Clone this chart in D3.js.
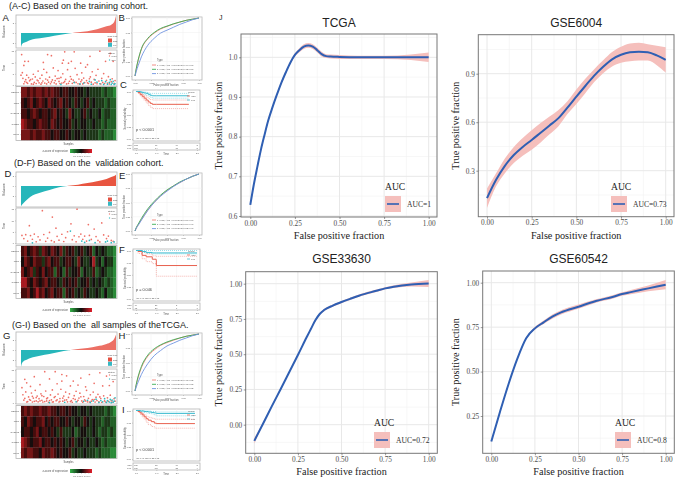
<!DOCTYPE html>
<html>
<head>
<meta charset="utf-8">
<script src="https://cdnjs.cloudflare.com/ajax/libs/d3/7.8.5/d3.min.js"></script>
<style>
  html, body { margin: 0; padding: 0; background: #fff; }
  svg { display: block; }
  text { font-family: "Liberation Sans", Arial, sans-serif; }
  .serif text, text.serif { font-family: "Liberation Serif", "Times New Roman", serif; }
</style>
</head>
<body>
<svg id="chart" width="687" height="481"></svg>
<script>
// ---- ROC panels on the right (J) ----
const tcgaFpr = [0, .02, .04, .06, .08, .1, .125, .15, .175, .2, .225, .25, .275, .3, .325, .35, .375, .4, .425, .45, .5, .6, .75, .9, 1];
const tcgaTpr = [.628, .68, .725, .768, .805, .84, .875, .907, .937, .963, .987, 1.006, 1.018, 1.027, 1.03, 1.027, 1.018, 1.008, 1.003, 1.002, 1.001, 1, 1, 1, 1];
const tcgaErr = [.003, .003, .003, .003, .003, .003, .003, .003, .003, .003, .003, .004, .005, .006, .006, .006, .006, .006, .005, .005, .005, .004, .004, .007, .012];

const gse6004Fpr = [0, .05, .1, .15, .2, .25, .3, .35, .4, .45, .5, .55, .6, .65, .7, .75, .8, .85, .9, .95, 1];
const gse6004Tpr = [.13, .242, .33, .397, .447, .49, .535, .58, .625, .69, .758, .824, .888, .943, .989, 1.017, 1.032, 1.036, 1.032, 1.013, .985];
const gse6004Err = [.06, .04, .045, .05, .055, .06, .06, .055, .05, .04, .045, .045, .04, .04, .045, .05, .055, .055, .05, .06, .078];

const gse33630Fpr = [0, .05, .1, .15, .2, .25, .3, .325, .35, .375, .4, .45, .5, .55, .6, .7, .75, .8, .9, 1];
const gse33630Tpr = [-.115, .007, .13, .25, .372, .494, .62, .68, .74, .785, .813, .845, .87, .893, .915, .95, .967, .979, .995, 1.002];
const gse33630Err = [.02, .008, .006, .006, .006, .006, .006, .007, .008, .008, .008, .008, .008, .008, .008, .008, .008, .01, .014, .025];

const gse60542Fpr = [0, .05, .1, .15, .2, .25, .3, .35, .4, .5, .6, .7, .75, .8, .9, 1];
const gse60542Tpr = [.106, .274, .433, .574, .687, .743, .777, .809, .833, .865, .897, .921, .936, .947, .968, .989];
const gse60542Err = [.005, .004, .004, .004, .005, .008, .01, .012, .012, .012, .01, .01, .01, .012, .016, .026];

// ---- risk score curves (A, D, G) ----
const riskRank = [0, .01, .03, .06, .1, .2, .3, .4, .5, .6, .7, .8, .9, .95, .98, 1];
const riskTrain = [-4.2, -3.4, -2.9, -2.6, -2.1, -1.6, -1.1, -.6, -.15, .2, .5, 1.1, 2, 2.5, 3.3, 5.2];
const riskValid = [-6.1, -5.6, -5, -4.2, -3.2, -2, -1.2, -.4, .05, .4, .9, 1.4, 2.1, 2.7, 3, 3.4];
const riskAll = [-5, -4, -3.3, -2.9, -2.4, -1.7, -1.2, -.6, -.1, .3, .6, 1.1, 1.8, 2.5, 3.3, 4.6];

// ---- survival scatter [rank, time] ----
const trainDead = [[.7,13.5],[3,8.7],[4,10.5],[7.7,10.5],[1.4,5.5],[0,4.4],[6,4.4],[28,13.5],[32,13],[23.5,10],[44.6,11],[43.5,9.7],[50,9.7],[46,14.7],[56,14.7],[53,10.5],[83,15],[94,14],[89,10.5],[72.6,12.7],[62.8,9.7],[70,9],[97,10.5],
  [2,3],[4,1.5],[5,2.4],[7,.8],[8,3.3],[9,1.9],[11,.5],[12,2.7],[13,4.8],[14,1.2],[15,3.6],[16,.7],[17,2.2],[18,6.2],[19,1],[20,3],[21,.4],[22,4.4],[23,1.8],[24,7],[25,.9],[26,2.7],[27,5.6],[29,1.3],[30,3.5],[31,.6],[33,2.3],[34,7.6],[35,1],[36,4],[37,.5],[38,2.9],[39,6.4],[40,1.6],[41,.7],[42,3.4],[44,5],[45,1.1],[47,2.5],[48,.5],[49,6.8],[51,1.7],[52,3.8],[54,.8],[55,2.2],[57,7.4],[58,1.2],[59,4.6],[60,.6],[61,2.7],[63,1.5],[64,5.4],[65,.5],[66,3.1],[67,1.1],[68,7.9],[69,2],[71,.7],[73,3.6],[74,1.3],[75,5.9],[76,.4],[77,2.5],[78,1],[79,4.3],[80,.6],[81,7],[82,1.8],[84,.5],[85,3],[86,1.2],[87,5.1],[88,.7],[90,2.1],[91,.9],[92,3.7],[93,.5],[95,1.5],[96,2.8],[98,.8],[99,2],
  [3,.6],[6,1.2],[10,2.4],[13,.4],[18,1.9],[22,1],[27,.5],[28,2.2],[32,1.4],[36,2],[40,3],[43,.9],[46,1.6],[50,.8],[53,2.6],[56,1.3],[62,.4],[64,2.3],[70,1],[72,2.8]];
const trainAlive = [[42,.3],[56,1.1],[62,.5],[66,.9],[72,1.6],[74,.4],[78,2.3],[80,1.3],[83,.6],[85,2],[87,.3],[89,1.5],[91,.4],[93,1.2],[94,2.4],[95,.3],[96,.9],[97,1.7],[98,.3],[99,.6]];

const validDead = [[22.5,14.3],[33,11.5],[59,15],[8.8,7.7],[70.9,8.2],[85,8.9],[77,6.2],[36.8,6.6],[52.6,8.5],
  [1,3.4],[3,2],[5,3.7],[7,.9],[10,3.3],[12,1.7],[14,4],[16,.6],[18,2.8],[20,1.4],[24,3.8],[26,.8],[28,2.2],[30,4.7],[32,1.1],[35,.5],[38,3],[40,1.3],[43,3.9],[45,.7],[47,2.4],[49,5],[54,1.5],[56,3.2],[58,.6],[61,2.8],[63,4],[65,1.7],[67,3.1],[69,.9],[72,3.4],[74,1.6],[79,2.9],[81,1.2],[83,.5],[87,3.6],[90,2],[92,3.1],[95,1.2],[97,.8]];
const validAlive = [[12,.1],[52,5.3],[64,.9],[67,.3],[72,1.2],[78,.2],[89,.5],[91,.9],[95,.2],[98,.5]];

const allDead = [[25,14.3],[36,14.3],[43,13],[4,10.8],[6,9.2],[43,10],[83,13.8],[90,12.3],[55,10],[14,12],[30,11],[48,12.4],[63,11.4],[72,13],[97,9.8],[1,7],[10,7.6],[20,8.4],[38,8.8],[52,7.8],[60,8.2],[68,7.4],[77,9],[86,7.8],[93,8],
  [2,3.8],[3,1.4],[5,5.1],[7,.7],[8,2.8],[9,1.6],[11,4.6],[12,.5],[13,2.3],[15,5.8],[16,1],[17,3.2],[18,.6],[19,2],[21,4.2],[22,1.3],[23,.5],[24,3],[26,5.5],[27,1],[28,2.4],[29,.4],[31,3.7],[32,1.5],[33,6],[34,.6],[35,2.6],[37,1.1],[39,4.1],[40,.5],[41,2.1],[42,6.3],[44,.9],[45,3.2],[46,1.4],[47,5],[49,.6],[50,2.6],[51,4.2],[53,1.1],[54,.4],[56,3.4],[57,1.7],[58,5.4],[59,.7],[61,2.3],[62,4.5],[64,1],[65,.4],[66,3],[67,1.5],[69,5.8],[70,.6],[71,2.2],[73,3.8],[74,.9],[75,1.6],[76,5],[78,.5],[79,2.7],[80,1.2],[81,4],[82,.6],[84,2.1],[85,.4],[87,3.3],[88,1],[89,.5],[91,2.4],[92,.8],[94,3.6],[95,1.1],[96,.5],[98,2],[99,.9],
  [4,2.2],[6,.5],[10,1.3],[12,3.1],[14,.8],[16,2.5],[20,1],[22,3.4],[25,.7],[27,2],[30,1.2],[33,.5],[36,3],[38,1.5],[41,.8],[44,2.3],[48,1.5],[52,.7],[55,2.1],[60,1.3],[63,2.9],[68,1],[72,.5],[77,1.6],[83,2.8]];
const allAlive = [[30,.2],[46,.4],[58,.6],[66,.8],[70,1.3],[73,.3],[76,1],[79,1.8],[82,.3],[84,1.2],[86,.6],[88,2],[90,.3],[91,1.1],[93,.5],[94,1.7],[95,.2],[96,1.4],[97,.4],[98,.9],[99,2.4]];

// ---- expression heatmaps, 5 genes by sample bins ----
const geneNames = ["MEMO1", "TLE1", "SH3TC2", "CCNB1", "PRC1"];
const heatTrain = [
  [2,2,1,2,1,2,2,1,2,1,2,1,1,0,1,1,0,0,1,0,0,-1,0,-1,-1,-1,-1,-2,-1,-2,-2,-3],
  [1,0,1,2,0,1,2,1,0,2,1,0,1,2,0,1,0,-1,1,0,-1,0,1,-1,0,-1,-1,-1,-2,-1,-2,-2],
  [1,1,0,1,2,1,0,1,1,0,1,2,0,1,0,-1,2,0,-1,-1,0,1,-1,0,-1,-1,0,-2,-1,-1,-2,-2],
  [3,2,1,1,0,1,2,1,1,0,2,1,0,1,0,0,1,-1,0,-1,0,0,-1,-1,0,-1,-1,-2,-1,-2,-2,-2],
  [2,2,2,1,2,1,1,2,1,1,0,1,1,0,0,1,0,-1,0,0,-1,0,-1,-1,-1,-1,-2,-1,-2,-2,-2,-3]
];
const heatValid = [
  [1,2,0,1,2,1,-1,2,1,0,2,1,0,2,-1,1,0,1,-1,0,1,-1,0,1,-2,0,-1,0,-1,-2,-2,-3],
  [0,2,1,0,2,1,1,-1,1,2,0,1,1,-1,0,1,1,0,-1,2,0,-1,-1,0,3,-1,0,-2,0,-1,-1,-3],
  [2,0,1,2,-1,1,0,2,0,1,1,-2,1,0,-2,1,-1,0,0,1,-2,0,-1,-1,1,-2,-1,0,-1,-2,-2,-3],
  [3,3,1,0,2,1,0,1,2,0,1,1,0,-1,1,0,1,0,1,-1,0,0,1,-1,0,-1,0,-1,-2,-1,-2,-3],
  [1,1,2,0,1,3,1,2,0,1,2,0,1,1,-2,1,0,1,-1,0,-1,1,0,-1,-1,0,-1,-2,0,-2,-2,-3]
];
const heatAll = [
  [1,2,1,2,1,1,2,1,1,2,1,1,0,1,1,0,1,0,0,-1,0,0,-1,0,-1,-1,-1,-1,-2,-1,-2,-3],
  [1,0,2,1,0,1,1,2,0,1,0,1,1,0,0,1,0,-1,0,0,-1,1,0,-1,0,-1,-1,-2,-1,-1,-2,-2],
  [0,1,1,0,1,2,0,1,1,0,1,0,-1,1,-1,-1,-1,0,-2,-1,0,0,-1,-1,0,-1,-2,-1,-1,-2,-1,-2],
  [3,2,1,0,1,1,2,0,1,1,0,1,0,1,0,-1,0,1,-1,0,0,-1,0,-1,-1,0,-1,-2,-1,-2,-2,-2],
  [2,1,2,2,1,1,0,2,1,1,2,1,0,1,0,0,1,-1,0,-1,-1,0,-1,-1,-1,-2,-1,-2,-2,-2,-3,-3]
];
const heatLegendTicks = [-3, -2, -1, 0, 1, 2, 3];

// ---- small ROC curves (B, E, H) ----
const smallFpr = [0, .02, .05, .1, .2, .3, .4, .5, .6, .7, .8, .9, 1];
const rocBred = [0, .12, .27, .46, .64, .74, .81, .855, .895, .93, .96, .98, 1];
const rocBgreen = [0, .13, .28, .47, .65, .75, .82, .86, .9, .93, .96, .98, 1];
const rocBblue = [0, .08, .18, .33, .53, .65, .74, .79, .84, .89, .93, .97, 1];
const rocEred = [0, .05, .11, .2, .37, .5, .62, .71, .79, .85, .91, .96, 1];
const rocEgreen = [0, .06, .12, .22, .39, .52, .63, .72, .79, .86, .91, .96, 1];
const rocEblue = [0, .05, .1, .19, .36, .5, .61, .7, .78, .85, .91, .96, 1];
const rocHred = [0, .11, .24, .41, .61, .72, .8, .85, .89, .93, .96, .98, 1];
const rocHgreen = [0, .12, .26, .43, .63, .74, .81, .86, .9, .93, .96, .98, 1];
const rocHblue = [0, .07, .16, .29, .48, .62, .71, .79, .84, .89, .93, .97, 1];
const rocLegendB = ["1-Years, AUC=0.80(95%CI:0.74-0.87)", "3-Years, AUC=0.80(95%CI:0.73-0.88)", "5-Years, AUC=0.75(95%CI:0.63-0.87)"];
const rocLegendE = ["1-Years, AUC=0.71(95%CI:0.56-0.86)", "3-Years, AUC=0.72(95%CI:0.54-0.90)", "5-Years, AUC=0.71(95%CI:0.52-0.90)"];
const rocLegendH = ["1-Years, AUC=0.77(95%CI:0.71-0.83)", "3-Years, AUC=0.78(95%CI:0.71-0.85)", "5-Years, AUC=0.73(95%CI:0.63-0.83)"];

// ---- survival curves (C, F, I) ----
const kmTime = [0, .1, .2, .3, .4, .5, .6, .7, .8, 1, 2.6];
const kmCHigh = [1, .98, .94, .9, .86, .82, .78, .75, .73, .73, .73];
const kmCHighUp = [1, .99, .97, .94, .91, .88, .85, .83, .82, .82, .82];
const kmCHighLo = [1, .96, .91, .86, .81, .76, .71, .67, .64, .64, .64];
const kmCLow = [1, 1, .99, .98, .97, .96, .94, .92, .91, .91, .91];
const kmCLowUp = [1, 1, 1, .99, .99, .98, .97, .96, .96, .96, .96];
const kmCLowLo = [1, .99, .98, .96, .94, .92, .9, .88, .86, .86, .86];
const kmFTime = [0, .1, .3, .5, .8, .99, 1, 3];
const kmFHigh = [1, .98, .9, .87, .82, .8, .69, .69];
const kmFHighUp = [1, 1, .96, .93, .89, .88, .88, .88];
const kmFHighLo = [1, .94, .83, .77, .73, .73, .47, .47];
const kmFLow = [1, 1, .98, .96, .95, .95, .95, .95];
const kmFLowUp = [1, 1, 1, 1, 1, 1, 1, 1];
const kmFLowLo = [1, .99, .96, .94, .93, .93, .93, .93];
const kmITime = [0, .1, .2, .3, .4, .5, .6, .75, .9, 1, 2.9];
const kmIHigh = [1, .98, .95, .91, .87, .83, .8, .77, .74, .73, .73];
const kmIHighUp = [1, .99, .97, .94, .91, .88, .86, .84, .82, .82, .82];
const kmIHighLo = [1, .97, .92, .87, .82, .76, .71, .67, .64, .635, .635];
const kmILow = [1, 1, .99, .99, .98, .98, .97, .96, .95, .94, .94];
const kmILowUp = [1, 1, 1, 1, .99, .99, .99, .98, .98, .97, .97];
const kmILowLo = [1, .99, .98, .97, .96, .95, .94, .93, .91, .89, .89];
const kmTicks = [0, 1, 2, 3];
const tableCHigh = [152, 61, 14, 2];
const tableCLow = [151, 74, 18, 3];
const tableFHigh = [64, 21, 5, 1];
const tableFLow = [65, 30, 7, 1];
const tableIHigh = [216, 82, 19, 3];
const tableILow = [216, 104, 25, 4];

const svg = d3.select("#chart");
const highColor = "#ec6f65", lowColor = "#25b6ba";
const keyColor = d3.scaleLinear().domain([-3, 0, 3]).range(["#35b548", "#0b0b0b", "#e3202a"]);
const heatColor = d3.scaleLinear().domain([-4, 0, 4.2]).range(["#35b548", "#120a08", "#e3202a"]);

const defs = svg.append("defs");
defs.append("filter").attr("id", "soft")
  .append("feGaussianBlur").attr("stdDeviation", 0.4);

// fine axes for the little panels
function tinyAxis(g, axis) {
  g.call(axis.tickSize(1).tickPadding(1));
  g.select(".domain").remove();
  g.selectAll("line").attr("stroke", "#777").attr("stroke-width", 0.3);
  g.selectAll("text").attr("font-size", 2.2).attr("fill", "#555");
}

function tinyFrame(g, x, y, w, h) {
  g.append("rect").attr("x", x).attr("y", y).attr("width", w).attr("height", h)
    .attr("fill", "none").attr("stroke", "#b5b5b5").attr("stroke-width", 0.8);
}

function tinyText(g, x, y, s, size, color) {
  return g.append("text").attr("x", x).attr("y", y)
    .attr("font-size", size || 2.6).attr("fill", color || "#555").text(s);
}

// risk curve + scatter + heatmap column
function riskColumn(id, p) {
  const g = svg.append("g").attr("filter", "url(#soft)");
  const x = d3.scaleLinear().domain([0, 1]).range([21, 116]);
  const y = d3.scaleLinear().domain(p.riskDomain).range([p.riskBox[1], p.riskBox[0]]);

  tinyFrame(g, 16, p.riskBox[0], 101, p.riskBox[1] - p.riskBox[0]);
  [[p.riskBox[0], y(0), p.highFill, "hi"], [y(0), p.riskBox[1], lowColor, "lo"]].forEach(d => {
    const clip = id + d[3];
    defs.append("clipPath").attr("id", clip).append("rect")
      .attr("x", 16).attr("y", d[0]).attr("width", 101).attr("height", d[1] - d[0]);
    g.append("path").datum(p.risk)
      .attr("clip-path", "url(#" + clip + ")")
      .attr("fill", d[2])
      .attr("d", d3.area().x((v, i) => x(riskRank[i])).y0(y(0)).y1(v => y(v)).curve(d3.curveMonotoneX));
  });
  tinyAxis(g.append("g").attr("transform", "translate(16,0)"), d3.axisLeft(y).tickValues([-3, 0, 3]));
  g.append("text").attr("transform", `translate(5,${(p.riskBox[0] + p.riskBox[1]) / 2}) rotate(-90)`)
    .attr("text-anchor", "middle").attr("font-size", 2.8).attr("fill", "#555").text("Riskscore");
  tinyText(g, 107.5, p.riskBox[1] - 11, "Risk type", 2.4);
  g.append("rect").attr("x", 108).attr("y", p.riskBox[1] - 9.5).attr("width", 4).attr("height", 4).attr("fill", "#e6503f");
  g.append("rect").attr("x", 108).attr("y", p.riskBox[1] - 5.2).attr("width", 4).attr("height", 4).attr("fill", "#35b8c4");
  tinyText(g, 113, p.riskBox[1] - 6.5, "high", 2.2);
  tinyText(g, 113, p.riskBox[1] - 2.2, "low", 2.2);

  // survival scatter
  const sx = d3.scaleLinear().domain([0, 100]).range([21, 116]);
  const sy = d3.scaleLinear().domain([-.4, 15.5]).range([p.dotBox[1], p.dotBox[0]]);
  tinyFrame(g, 16, p.dotBox[0], 101, p.dotBox[1] - p.dotBox[0]);
  [[p.dead, "#ee6f66"], [p.alive, "#2fbcc2"]].forEach(s => {
    g.append("g").selectAll("circle").data(s[0]).join("circle")
      .attr("cx", d => sx(d[0])).attr("cy", d => sy(d[1])).attr("r", 0.85).attr("fill", s[1]);
  });
  tinyAxis(g.append("g").attr("transform", "translate(16,0)"), d3.axisLeft(sy).tickValues([0, 5, 10, 15]));
  g.append("text").attr("transform", `translate(5,${(p.dotBox[0] + p.dotBox[1]) / 2}) rotate(-90)`)
    .attr("text-anchor", "middle").attr("font-size", 2.8).attr("fill", "#555").text("Time");
  tinyText(g, 108, p.dotBox[0] + 3.5, "Status", 2.4);
  g.append("circle").attr("cx", 109.5).attr("cy", p.dotBox[0] + 6).attr("r", .7).attr("fill", "#f0837a");
  g.append("circle").attr("cx", 109.5).attr("cy", p.dotBox[0] + 10).attr("r", .7).attr("fill", "#42c4c8");
  tinyText(g, 111.5, p.dotBox[0] + 6.8, "dead", 2.2);
  tinyText(g, 111.5, p.dotBox[0] + 10.8, "alive", 2.2);

  // heatmap
  const cols = d3.range(p.heat[0].length);
  const hx = d3.scaleBand().domain(cols).range([21, 116]);
  const hy = d3.scaleBand().domain(geneNames).range([p.heatBox[0], p.heatBox[1]]);
  tinyFrame(g, 16, p.heatBox[0] - .5, 101, p.heatBox[1] - p.heatBox[0] + 1);
  p.heat.forEach((row, r) => {
    g.append("g").selectAll("rect").data(row).join("rect")
      .attr("x", (d, i) => hx(i)).attr("y", hy(geneNames[r]))
      .attr("width", hx.bandwidth() + .2).attr("height", hy.bandwidth() + .2)
      .attr("fill", d => heatColor(d));
  });
  tinyAxis(g.append("g").attr("transform", "translate(21,0)"), d3.axisLeft(hy));
  tinyText(g, 68.5, p.heatBox[1] + 4.5, "Samples", 2.6).attr("text-anchor", "middle");

  // colour key
  const gradId = id + "key";
  const grad = defs.append("linearGradient").attr("id", gradId);
  heatLegendTicks.forEach(t => grad.append("stop")
    .attr("offset", (t + 3) / 6).attr("stop-color", keyColor(t)));
  const kx = d3.scaleLinear().domain([-3, 3]).range([70, 92]);
  g.append("rect").attr("x", 70).attr("y", p.keyY).attr("width", 22).attr("height", 4).attr("fill", `url(#${gradId})`);
  tinyText(g, 68, p.keyY + 2.8, "z-score of expression", 2.7).attr("text-anchor", "end");
  tinyAxis(g.append("g").attr("transform", `translate(0,${p.keyY + 4})`), d3.axisBottom(kx).tickValues([-2, -1, 0, 1, 2]));
}

function smallRoc(p) {
  const g = svg.append("g").attr("filter", "url(#soft)");
  const x = d3.scaleLinear().domain([0, 1]).range([135, 199]);
  const y = d3.scaleLinear().domain([0, 1]).range([p.box[1] - 4, p.box[0] + 1]);
  tinyFrame(g, 132, p.box[0], 70, p.box[1] - p.box[0]);
  [.25, .5, .75, 1].forEach(v => {
    g.append("line").attr("x1", x(v)).attr("x2", x(v)).attr("y1", p.box[0]).attr("y2", p.box[1]).attr("stroke", "#eee").attr("stroke-width", .5);
    g.append("line").attr("x1", 132).attr("x2", 202).attr("y1", y(v)).attr("y2", y(v)).attr("stroke", "#eee").attr("stroke-width", .5);
  });
  const colors = ["#ee7f76", "#39ae55", "#6f93e0"];
  [p.red, p.green, p.blue].forEach((c, i) => {
    g.append("path").datum(c).attr("fill", "none").attr("stroke", colors[i]).attr("stroke-width", .9)
      .attr("d", d3.line().x((v, k) => x(smallFpr[k])).y(v => y(v)).curve(d3.curveMonotoneX));
  });
  tinyAxis(g.append("g").attr("transform", `translate(0,${p.box[1]})`), d3.axisBottom(x).tickValues([0, .25, .5, .75, 1]).tickFormat(d3.format(".2f")));
  tinyAxis(g.append("g").attr("transform", "translate(132,0)"), d3.axisLeft(y).tickValues([0, .25, .5, .75, 1]).tickFormat(d3.format(".2f")));
  g.append("text").attr("transform", `translate(125,${(p.box[0] + p.box[1]) / 2 + 3}) rotate(-90)`)
    .attr("text-anchor", "middle").attr("font-size", 2.6).attr("fill", "#555").text("True positive fraction");
  tinyText(g, 166, p.box[1] + 6, "False positive fraction", 2.6).attr("text-anchor", "middle");
  tinyText(g, 157, p.box[1] - 19, "Type", 2.6);
  p.legend.forEach((s, i) => {
    const ly = p.box[1] - 15 + i * 4.3;
    g.append("line").attr("x1", 152).attr("x2", 156).attr("y1", ly).attr("y2", ly).attr("stroke", colors[i]).attr("stroke-width", .9);
    tinyText(g, 157, ly + .8, s, 2.2);
  });
}

function smallKm(p) {
  const g = svg.append("g").attr("filter", "url(#soft)");
  const x = d3.scaleLinear().domain([0, 3]).range([136, 197]);
  const y = d3.scaleLinear().domain([0, 1]).range([p.box[1] - 2, p.box[0] + 1.5]);
  tinyFrame(g, 133, p.box[0], 67, p.box[1] - p.box[0]);
  kmTicks.forEach(t => g.append("line").attr("x1", x(t)).attr("x2", x(t)).attr("y1", p.box[0]).attr("y2", p.box[1]).attr("stroke", "#eee").attr("stroke-width", .5));
  const step = d3.line().x((v, i) => x(p.time[i])).y(v => y(v)).curve(d3.curveStepAfter);
  [[p.highUp, highColor, .5, "1,1"], [p.highLo, highColor, .5, "1,1"], [p.lowUp, "#3dbcd0", .5, "1,1"], [p.lowLo, "#3dbcd0", .5, "1,1"],
   [p.high, "#e8604f", 1, null], [p.low, "#3dbcd0", 1, null]].forEach(s => {
    g.append("path").datum(s[0]).attr("fill", "none").attr("stroke", s[1]).attr("stroke-width", s[2])
      .attr("stroke-dasharray", s[3]).attr("d", step);
  });
  tinyAxis(g.append("g").attr("transform", "translate(133,0)"), d3.axisLeft(y).tickValues([0, .25, .5, .75, 1]).tickFormat(d3.format(".2f")));
  g.append("text").attr("transform", `translate(126,${(p.box[0] + p.box[1]) / 2 + 3}) rotate(-90)`)
    .attr("text-anchor", "middle").attr("font-size", 2.6).attr("fill", "#555").text("Survival probability");
  tinyText(g, 188, p.box[0] + 3, "Group", 2.4);
  g.append("line").attr("x1", 187).attr("x2", 190).attr("y1", p.box[0] + 6).attr("y2", p.box[0] + 6).attr("stroke", "#e8604f").attr("stroke-width", .8);
  g.append("line").attr("x1", 187).attr("x2", 190).attr("y1", p.box[0] + 10).attr("y2", p.box[0] + 10).attr("stroke", "#3dbcd0").attr("stroke-width", .8);
  tinyText(g, 191, p.box[0] + 6.8, "High", 2.2);
  tinyText(g, 191, p.box[0] + 10.8, "Low", 2.2);
  tinyText(g, 136, p.box[1] - 10, p.pLabel, 3.8, "#444");
  tinyText(g, 136, p.box[1] - 2.5, "HR 0.41 95CI 0.25-0.72", 2.2);
  // number at risk table
  const ty = p.box[1] + 2;
  tinyFrame(g, 133, ty, 67, 7);
  [[p.tableHigh, "High", 2.8], [p.tableLow, "Low", 5.8]].forEach(r => {
    tinyText(g, 127, ty + r[2], r[1], 2.2);
    r[0].forEach((n, i) => tinyText(g, x(kmTicks[i]), ty + r[2], n, 2.2).attr("text-anchor", "middle"));
  });
  tinyAxis(g.append("g").attr("transform", `translate(0,${ty + 7})`), d3.axisBottom(x).tickValues(kmTicks));
  tinyText(g, 166, ty + 12, "Time", 2.6).attr("text-anchor", "middle");
}

// the four large smoothed ROC plots
function rocPanel(p) {
  const g = svg.append("g").attr("class", "serif");
  const x = d3.scaleLinear().domain([0, 1]).range(p.xRange);
  const y = d3.scaleLinear().domain(p.yPair[0]).range(p.yPair[1]);
  const bx = p.left, bw = p.right - p.left, by = p.top, bh = p.bottom - p.top;

  const minorX = [.125, .375, .625, .875];
  minorX.forEach(v => g.append("line").attr("x1", x(v)).attr("x2", x(v)).attr("y1", by).attr("y2", by + bh).attr("stroke", "#f1f1f1").attr("stroke-width", .6));
  p.yMinor.forEach(v => g.append("line").attr("x1", bx).attr("x2", bx + bw).attr("y1", y(v)).attr("y2", y(v)).attr("stroke", "#f1f1f1").attr("stroke-width", .6));
  [0, .25, .5, .75, 1].forEach(v => g.append("line").attr("x1", x(v)).attr("x2", x(v)).attr("y1", by).attr("y2", by + bh).attr("stroke", "#e8e8e8").attr("stroke-width", 1));
  p.yTicks.forEach(v => g.append("line").attr("x1", bx).attr("x2", bx + bw).attr("y1", y(v)).attr("y2", y(v)).attr("stroke", "#e8e8e8").attr("stroke-width", 1));

  g.append("path").datum(p.tpr).attr("fill", "#f5bfbc")
    .attr("d", d3.area().x((v, i) => x(p.fpr[i])).y0((v, i) => y(v - p.err[i])).y1((v, i) => y(v + p.err[i])).curve(d3.curveMonotoneX));
  g.append("path").datum(p.tpr).attr("fill", "none").attr("stroke", "#2f5fb3").attr("stroke-width", 2)
    .attr("d", d3.line().x((v, i) => x(p.fpr[i])).y(v => y(v)).curve(d3.curveMonotoneX));
  g.append("rect").attr("x", bx).attr("y", by).attr("width", bw).attr("height", bh)
    .attr("fill", "none").attr("stroke", "#777").attr("stroke-width", 1);

  const xAxis = g.append("g").attr("transform", `translate(0,${p.bottom})`)
    .call(d3.axisBottom(x).tickValues([0, .25, .5, .75, 1]).tickFormat(d3.format(".2f")).tickSize(2).tickPadding(1.5));
  const yAxis = g.append("g").attr("transform", `translate(${p.left},0)`)
    .call(d3.axisLeft(y).tickValues(p.yTicks).tickFormat(d3.format(p.yFormat)).tickSize(2).tickPadding(1.5));
  [xAxis, yAxis].forEach(a => {
    a.select(".domain").remove();
    a.selectAll("line").attr("stroke", "#555").attr("stroke-width", .6);
    a.selectAll("text").attr("font-size", 7.3).attr("fill", "#4d4d4d").attr("font-family", "Liberation Serif");
  });

  g.append("text").attr("x", (p.left + p.right) / 2).attr("y", p.titleY).attr("text-anchor", "middle")
    .attr("font-size", 12).attr("fill", "#222").style("font-family", "Liberation Sans").text(p.title);
  g.append("text").attr("x", (p.left + p.right) / 2).attr("y", p.bottom + 22).attr("text-anchor", "middle")
    .attr("font-size", 10.2).attr("fill", "#222").text("False positive fraction");
  g.append("text").attr("transform", `translate(${p.yLabelX},${(p.top + p.bottom) / 2}) rotate(-90)`)
    .attr("text-anchor", "middle").attr("font-size", 10.2).attr("fill", "#222").text("True positive fraction");

  // legend
  g.append("text").attr("x", p.legendX).attr("y", p.legendY - 6).attr("font-size", 9.6).attr("fill", "#222").text("AUC");
  g.append("rect").attr("x", p.legendX).attr("y", p.legendY).attr("width", 16).attr("height", 16).attr("fill", "#f5bfbc");
  g.append("line").attr("x1", p.legendX + 2).attr("x2", p.legendX + 14).attr("y1", p.legendY + 8).attr("y2", p.legendY + 8)
    .attr("stroke", "#2f5fb3").attr("stroke-width", 1.6);
  g.append("text").attr("x", p.legendX + 22).attr("y", p.legendY + 10.5).attr("font-size", 7.6).attr("fill", "#333").text(p.label);
}

riskColumn("a", { risk: riskTrain, highFill: highColor, riskBox: [15, 48], riskDomain: [-4.5, 5.4], dotBox: [50, 86], dead: trainDead, alive: trainAlive, heat: heatTrain, heatBox: [87, 140], keyY: 149 });
riskColumn("d", { risk: riskValid, highFill: "#e8553f", riskBox: [172, 207], riskDomain: [-6.3, 4.2], dotBox: [208, 244], dead: validDead, alive: validAlive, heat: heatValid, heatBox: [246, 298], keyY: 308 });
riskColumn("g", { risk: riskAll, highFill: highColor, riskBox: [332, 367], riskDomain: [-5.1, 5.4], dotBox: [369, 404], dead: allDead, alive: allAlive, heat: heatAll, heatBox: [406, 458], keyY: 469 });

smallRoc({ box: [17, 80], red: rocBred, green: rocBgreen, blue: rocBblue, legend: rocLegendB });
smallRoc({ box: [173, 235], red: rocEred, green: rocEgreen, blue: rocEblue, legend: rocLegendE });
smallRoc({ box: [333, 395], red: rocHred, green: rocHgreen, blue: rocHblue, legend: rocLegendH });

smallKm({ box: [90, 141], time: kmTime, high: kmCHigh, highUp: kmCHighUp, highLo: kmCHighLo, low: kmCLow, lowUp: kmCLowUp, lowLo: kmCLowLo, pLabel: "p < 0.0001", tableHigh: tableCHigh, tableLow: tableCLow });
smallKm({ box: [249, 301], time: kmFTime, high: kmFHigh, highUp: kmFHighUp, highLo: kmFHighLo, low: kmFLow, lowUp: kmFLowUp, lowLo: kmFLowLo, pLabel: "p = 0.046", tableHigh: tableFHigh, tableLow: tableFLow });
smallKm({ box: [409, 461], time: kmITime, high: kmIHigh, highUp: kmIHighUp, highLo: kmIHighLo, low: kmILow, lowUp: kmILowUp, lowLo: kmILowLo, pLabel: "p < 0.0001", tableHigh: tableIHigh, tableLow: tableILow });

rocPanel({ title: "TCGA", titleY: 27, label: "AUC=1", fpr: tcgaFpr, tpr: tcgaTpr, err: tcgaErr,
  left: 241, right: 437, top: 34, bottom: 217, xRange: [250.3, 428.7], yPair: [[.6, 1], [216, 57.3]],
  yTicks: [.6, .7, .8, .9, 1], yMinor: [.65, .75, .85, .95, 1.05], yFormat: ".1f", yLabelX: 222, legendX: 385, legendY: 196 });
rocPanel({ title: "GSE6004", titleY: 27, label: "AUC=0.73", fpr: gse6004Fpr, tpr: gse6004Tpr, err: gse6004Err,
  left: 478.3, right: 674, top: 34.7, bottom: 216.7, xRange: [487, 665.7], yPair: [[.3, .9], [170.7, 73.7]],
  yTicks: [.3, .6, .9], yMinor: [.15, .45, .75, 1.05], yFormat: ".1f", yLabelX: 459, legendX: 611, legendY: 196 });
rocPanel({ title: "GSE33630", titleY: 263, label: "AUC=0.72", fpr: gse33630Fpr, tpr: gse33630Tpr, err: gse33630Err,
  left: 245.7, right: 437.3, top: 271.7, bottom: 453.3, xRange: [254.3, 428.7], yPair: [[0, 1], [424.7, 283.7]],
  yTicks: [0, .25, .5, .75, 1], yMinor: [-.125, .125, .375, .625, .875], yFormat: ".2f", yLabelX: 222, legendX: 374, legendY: 432 });
rocPanel({ title: "GSE60542", titleY: 263, label: "AUC=0.8", fpr: gse60542Fpr, tpr: gse60542Tpr, err: gse60542Err,
  left: 482.7, right: 674.3, top: 271, bottom: 453.3, xRange: [491.3, 665.7], yPair: [[.25, 1], [416, 282.7]],
  yTicks: [.25, .5, .75, 1], yMinor: [.125, .375, .625, .875], yFormat: ".2f", yLabelX: 459, legendX: 615, legendY: 432 });

// headings and panel letters
const headings = [["(A-C) Based on the training cohort.", 9, 9, 9], ["(D-F) Based on the  validation cohort.", 14, 166, 9], ["(G-I) Based on the  all samples of theTCGA.", 12, 328, 9]];
const panelLetters = [["A", 2.5, 21, 9.5], ["B", 118.5, 21, 9.5], ["C", 120, 88, 9.5], ["D", 4.5, 177, 9.5], ["E", 119, 179, 9.5], ["F", 119, 253, 9.5], ["G", 3, 339, 9.5], ["H", 118.5, 339, 9.5], ["I", 122, 413, 9.5], ["J", 219, 20, 7]];
svg.append("g").selectAll("text").data(headings).join("text").attr("xml:space", "preserve").style("white-space", "pre")
  .attr("x", d => d[1]).attr("y", d => d[2]).attr("font-size", d => d[3]).attr("fill", "#222").text(d => d[0]);
svg.append("g").selectAll("text").data(panelLetters).join("text")
  .attr("x", d => d[1]).attr("y", d => d[2]).attr("font-size", d => d[3]).attr("fill", "#222").text(d => d[0]);
</script>
</body>
</html>
